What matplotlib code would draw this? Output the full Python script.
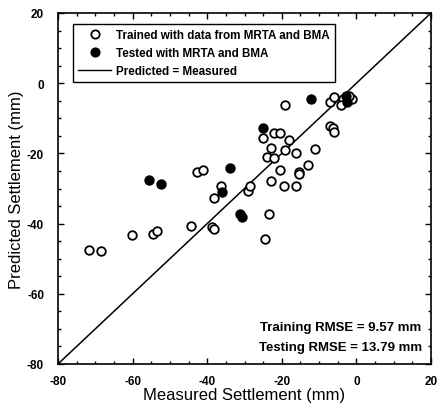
import matplotlib
matplotlib.use("Agg")
import matplotlib.pyplot as plt
from matplotlib.lines import Line2D
from matplotlib.ticker import MultipleLocator

plt.rcParams["font.family"] = ["Liberation Sans", "DejaVu Sans"]
plt.rcParams["axes.unicode_minus"] = False

# Training set (measured, predicted) in mm
train_measured = [-71.8, -68.4, -60.1, -54.6, -53.4, -44.3, -38.6, -38.2,
                  -42.8, -41.0, -38.2, -36.2, -29.0, -28.6, -25.0, -22.1,
                  -20.6, -18.1, -23.0, -19.1, -16.1, -24.0, -22.0, -20.5,
                  -15.3, -15.4, -23.0, -19.5, -16.3, -12.9, -11.0, -19.2,
                  -7.1, -6.1, -3.7, -1.1, -4.0, -7.1, -6.2, -6.1, -23.4,
                  -24.4, -2.0]
train_predicted = [-47.6, -47.9, -43.2, -43.0, -42.1, -40.8, -41.0, -41.5,
                   -25.2, -24.6, -32.8, -29.2, -30.7, -29.2, -15.5, -14.1,
                   -14.3, -16.3, -18.4, -19.1, -19.8, -21.0, -21.2, -24.7,
                   -25.3, -26.0, -27.9, -29.3, -29.3, -23.2, -18.7, -6.2,
                   -5.3, -3.8, -4.5, -4.4, -6.2, -12.1, -12.8, -14.0, -37.3,
                   -44.4, -3.6]

# Testing set (measured, predicted) in mm
test_measured = [-55.7, -52.3, -33.9, -36.0, -31.3, -30.6, -25.0, -12.3,
                 -2.9, -2.6]
test_predicted = [-27.7, -28.6, -24.1, -30.9, -37.4, -38.0, -12.7, -4.6,
                  -3.6, -5.4]

axis_limits = [-80, 20]
rmse_train = 9.57
rmse_test = 13.79

fig = plt.figure(figsize=(4.40, 4.06), dpi=100)
ax = fig.add_axes([58 / 440, 41 / 406, 373 / 440, 351 / 406])

ax.plot(axis_limits, axis_limits, color="black", lw=1.1, zorder=1)
ax.scatter(train_measured, train_predicted, s=38, facecolors="white",
           edgecolors="black", linewidths=1.3, zorder=2)
ax.scatter(test_measured, test_predicted, s=38, facecolors="black",
           edgecolors="black", linewidths=1.3, zorder=3)

ax.set_xlim(axis_limits)
ax.set_ylim(axis_limits)
ax.xaxis.set_major_locator(MultipleLocator(20))
ax.yaxis.set_major_locator(MultipleLocator(20))
ax.xaxis.set_minor_locator(MultipleLocator(5))
ax.yaxis.set_minor_locator(MultipleLocator(5))
ax.tick_params(which="both", direction="in", top=True, right=True,
               width=1.0, labelsize=8.5)
ax.tick_params(which="major", length=4)
ax.tick_params(axis="x", which="major", pad=8)
ax.tick_params(axis="y", which="major", pad=10)
ax.tick_params(which="minor", length=2.5)
for lbl in ax.get_xticklabels() + ax.get_yticklabels():
    lbl.set_fontweight("bold")
for sp in ax.spines.values():
    sp.set_linewidth(1.2)

ax.set_xlabel("Measured Settlement (mm)", fontsize=12, labelpad=0)
ax.set_ylabel("Predicted Settlement (mm)", fontsize=12, labelpad=2)

handles = [
    Line2D([], [], marker="o", ls="none", mfc="white", mec="black",
           mew=1.3, ms=6.0),
    Line2D([], [], marker="o", ls="none", mfc="black", mec="black",
           mew=1.3, ms=6.0),
    Line2D([], [], color="black", lw=1.0),
]
labels = ["Trained with data from MRTA and BMA",
          "Tested with MRTA and BMA",
          "Predicted = Measured"]
leg = ax.legend(handles, labels, loc="upper left",
                bbox_to_anchor=(0.025, 0.985), frameon=True, fancybox=False,
                edgecolor="black", framealpha=1, handlelength=2.8,
                handletextpad=0.4, borderpad=0.45, labelspacing=0.5,
                prop={"size": 8.4, "weight": "bold"})
leg.get_frame().set_linewidth(1.0)

ax.text(0.975, 0.105, f"Training RMSE = {rmse_train:.2f} mm",
        transform=ax.transAxes, ha="right", va="center", fontsize=9.5,
        fontweight="bold")
ax.text(0.975, 0.048, f"Testing RMSE = {rmse_test:.2f} mm",
        transform=ax.transAxes, ha="right", va="center", fontsize=9.5,
        fontweight="bold")

fig.savefig("out.png", dpi=100)
